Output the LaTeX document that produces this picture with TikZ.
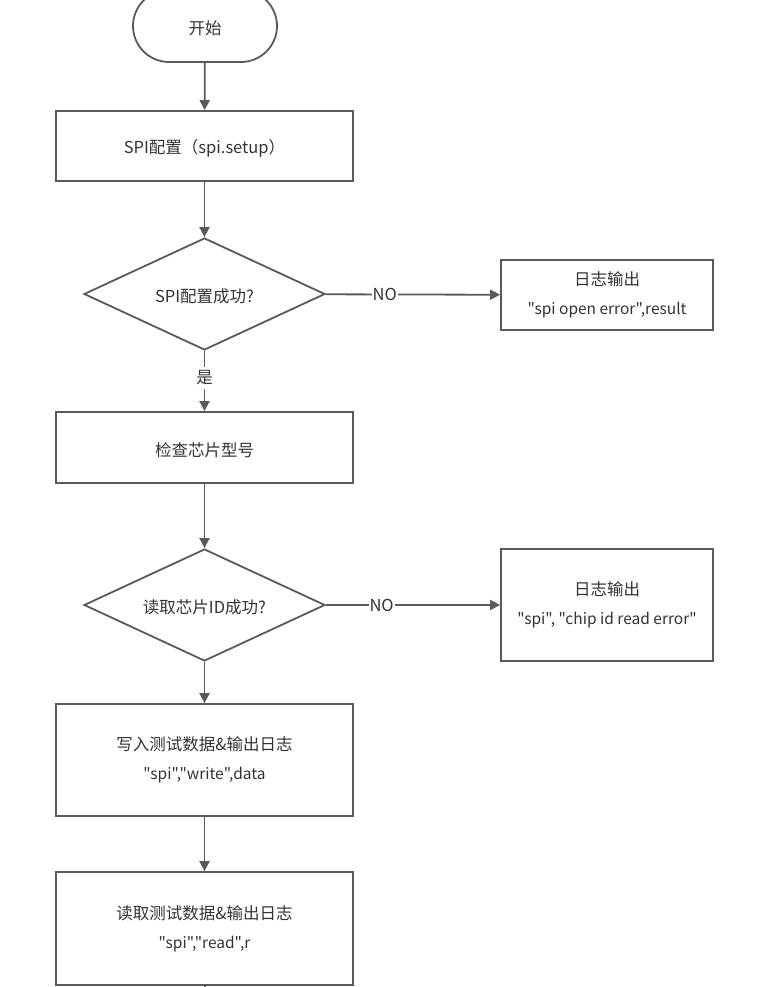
\documentclass[tikz,border=0pt]{standalone}
\usepackage{fontspec}
\newfontfamily\cjk{Noto Sans CJK SC}
\usetikzlibrary{shapes.geometric,arrows.meta}
\definecolor{ln}{HTML}{5A5A5A}
\definecolor{tx}{HTML}{333333}
\newcommand{\zh}{\fontsize{16.5}{29}\selectfont}
\newcommand{\la}{\fontsize{15.5}{29}\selectfont}
\begin{document}
\begin{tikzpicture}[x=1pt,y=-1pt,
  base/.style={draw=ln,line width=1.8pt,fill=white,text=tx,align=center,inner sep=0pt,
    font=\cjk\zh,execute at begin node={\rule{0pt}{19pt}}},
  box/.style={base,rectangle,minimum width=297pt},
  logbox/.style={base,rectangle,minimum width=212pt},
  decision/.style={base,diamond,aspect=2.15,minimum width=241pt,minimum height=112pt},
  term/.style={base,rectangle,rounded corners=36pt,minimum width=144pt,minimum height=72pt},
  arr/.style={draw=ln,line width=1.8pt,-{Triangle[length=10pt,width=10pt]}},
  lbl/.style={fill=white,text=tx,inner sep=1pt,font=\cjk\zh}]
\useasboundingbox (0,0) rectangle (777,987);
\fill[white] (0,0) rectangle (777,987);
\node[term] (start) at (205,26) {开始};
\node[box,minimum height=70pt] (cfg) at (204.5,146) {SPI配置（spi.setup）};
\node[decision] (d1) at (204.5,294) {SPI配置成功?};
\node[logbox,minimum height=70pt] (log1) at (607,295) {日志输出\\{\la"spi open error",result}};
\node[box,minimum height=71pt] (chk) at (204.5,447.5) {检查芯片型号};
\node[decision] (d2) at (204.5,605) {读取芯片ID成功?};
\node[logbox,minimum height=112pt] (log2) at (607,605) {日志输出\\{\la"spi", "chip id read error"}};
\node[box,minimum height=112pt] (wr) at (204.5,760) {写入测试数据\&输出日志\\{\la"spi","write",data}};
\node[box,minimum height=113pt] (rd) at (204.5,928.5) {读取测试数据\&输出日志\\{\la"spi","read",r}};
\coordinate (out) at (205,995);
\draw[arr] (start) -- (cfg);
\draw[arr] (cfg) -- (d1);
\draw[arr] (d1) -- node[lbl,pos=0.34]{NO} (log1);
\draw[arr] (d1) -- node[lbl,pos=0.45,inner sep=4pt]{是} (chk);
\draw[arr] (chk) -- (d2);
\draw[arr] (d2) -- node[lbl,pos=0.32]{NO} (log2);
\draw[arr] (d2) -- (wr);
\draw[arr] (wr) -- (rd);
\draw[draw=ln,line width=1.8pt] (rd) -- (out);
\end{tikzpicture}
\end{document}
